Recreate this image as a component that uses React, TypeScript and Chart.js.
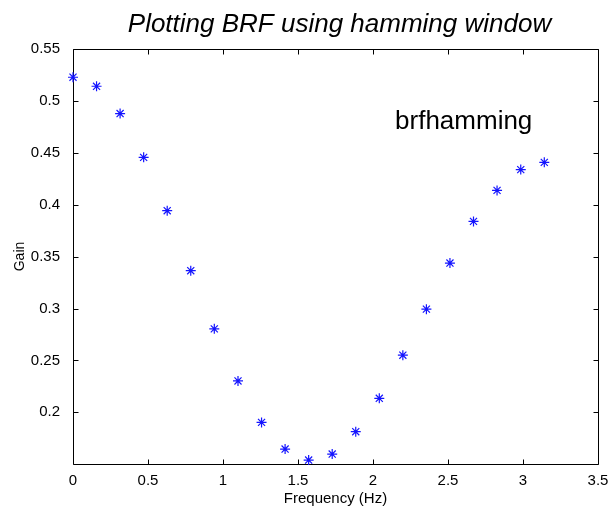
import React, { useEffect, useRef } from "react";
import { Chart, registerables } from "chart.js";

Chart.register(...registerables);

// Frequency samples (rad/s spaced by pi/20) and the measured filter gain
const freqHz = [
  0, 0.157, 0.314, 0.471, 0.628, 0.785, 0.942, 1.1, 1.257, 1.414, 1.571,
  1.728, 1.885, 2.042, 2.199, 2.356, 2.513, 2.67, 2.827, 2.985, 3.142,
];
const gain = [
  0.5228, 0.5141, 0.4878, 0.4456, 0.3942, 0.3364, 0.2804, 0.2302, 0.1903,
  0.1646, 0.154, 0.1598, 0.1813, 0.2135, 0.255, 0.2994, 0.3438, 0.3839,
  0.4138, 0.4338, 0.4408,
];

const xTicks = [0, 0.5, 1, 1.5, 2, 2.5, 3, 3.5];
const yTicks = [0.2, 0.25, 0.3, 0.35, 0.4, 0.45, 0.5, 0.55];
const xRange = [0, 3.5];
const yRange = [0.1502, 0.55];

const titleText = "Plotting BRF using hamming window";
const xLabel = "Frequency (Hz)";
const yLabel = "Gain";
const noteText = "brfhamming";
const notePos = [2.147, 0.48];

const FONT = "'Liberation Sans', Arial, Helvetica, sans-serif";

// Draws the boxed axes with inward tick marks on every side, plus the
// title, axis labels and the in-plot annotation.
const boxedAxes = {
  id: "boxedAxes",
  beforeDatasetsDraw(chart: any) {
    const { ctx, chartArea: a, scales } = chart;
    const sx = scales.x;
    const sy = scales.y;
    const L = Math.round(a.left) + 0.5;
    const R = Math.round(a.right) + 0.5;
    const T = Math.round(a.top) + 0.5;
    const B = Math.round(a.bottom) + 0.5;
    const tick = 5;
    ctx.save();
    ctx.strokeStyle = "#000";
    ctx.lineWidth = 1;
    ctx.beginPath();
    ctx.moveTo(L, T);
    ctx.lineTo(R, T);
    ctx.moveTo(R, T);
    ctx.lineTo(R, B);
    ctx.moveTo(R, B);
    ctx.lineTo(L, B);
    ctx.moveTo(L, B);
    ctx.lineTo(L, T);
    for (const v of xTicks) {
      const px = Math.round(sx.getPixelForValue(v)) + 0.5;
      ctx.moveTo(px, B);
      ctx.lineTo(px, B - tick);
      ctx.moveTo(px, T);
      ctx.lineTo(px, T + tick);
    }
    for (const v of yTicks) {
      const py = Math.round(sy.getPixelForValue(v)) + 0.5;
      ctx.moveTo(L, py);
      ctx.lineTo(L + tick, py);
      ctx.moveTo(R, py);
      ctx.lineTo(R - tick, py);
    }
    ctx.stroke();
    ctx.restore();
  },
  afterDraw(chart: any) {
    const { ctx, chartArea: a, scales } = chart;
    const cx = (a.left + a.right) / 2;
    ctx.save();
    ctx.fillStyle = "#000";

    ctx.font = `italic 26px ${FONT}`;
    ctx.textAlign = "center";
    ctx.textBaseline = "alphabetic";
    ctx.fillText(titleText, cx + 4, 32);

    ctx.font = `15px ${FONT}`;
    ctx.textBaseline = "middle";
    ctx.fillText(xLabel, cx, 499);

    ctx.save();
    ctx.translate(20, (a.top + a.bottom) / 2);
    ctx.rotate(-Math.PI / 2);
    ctx.font = `14px ${FONT}`;
    ctx.fillText(yLabel, 0, 0);
    ctx.restore();

    ctx.font = `26px ${FONT}`;
    ctx.textAlign = "left";
    ctx.textBaseline = "middle";
    ctx.fillText(
      noteText,
      scales.x.getPixelForValue(notePos[0]),
      scales.y.getPixelForValue(notePos[1])
    );
    ctx.restore();
  },
};

export default function App() {
  const canvasRef = useRef<HTMLCanvasElement | null>(null);

  useEffect(() => {
    const canvas = canvasRef.current;
    if (!canvas) return;
    const chart = new Chart(canvas, {
      type: "scatter",
      data: {
        datasets: [
          {
            data: freqHz.map((f, i) => ({ x: f, y: gain[i] })),
            pointStyle: "star",
            pointRadius: 5,
            pointBorderWidth: 1.2,
            borderColor: "rgb(20, 20, 255)",
            backgroundColor: "rgb(20, 20, 255)",
            showLine: false,
            clip: false as any,
          },
        ],
      },
      options: {
        animation: false,
        responsive: false,
        maintainAspectRatio: false,
        layout: { padding: { left: 0, right: 13, top: 49, bottom: 0 } },
        plugins: {
          legend: { display: false },
          tooltip: { enabled: false },
          title: { display: false },
        },
        scales: {
          x: {
            type: "linear",
            min: xRange[0],
            max: xRange[1],
            grid: { display: false },
            border: { display: false },
            afterBuildTicks: (s: any) => {
              s.ticks = xTicks.map((v) => ({ value: v }));
            },
            afterFit: (s: any) => {
              s.height = 45;
              s.paddingLeft = 0;
              s.paddingRight = 0;
            },
            ticks: {
              color: "#000",
              padding: 0,
              maxRotation: 0,
              font: { family: FONT, size: 15 },
              callback: (v: any) => String(v),
            },
          },
          y: {
            type: "linear",
            min: yRange[0],
            max: yRange[1],
            grid: { display: false },
            border: { display: false },
            afterBuildTicks: (s: any) => {
              s.ticks = yTicks.map((v) => ({ value: v }));
            },
            afterFit: (s: any) => {
              s.width = 73;
              s.paddingTop = 0;
              s.paddingBottom = 0;
            },
            ticks: {
              color: "#000",
              padding: 5,
              font: { family: FONT, size: 15 },
              callback: (v: any) => String(v),
            },
          },
        },
      },
      plugins: [boxedAxes],
    });
    return () => chart.destroy();
  }, []);

  return (
    <div
      style={{
        position: "fixed",
        left: 0,
        top: 0,
        width: 611,
        height: 509,
        background: "#fff",
      }}
    >
      <canvas ref={canvasRef} width={611} height={509} />
    </div>
  );
}
